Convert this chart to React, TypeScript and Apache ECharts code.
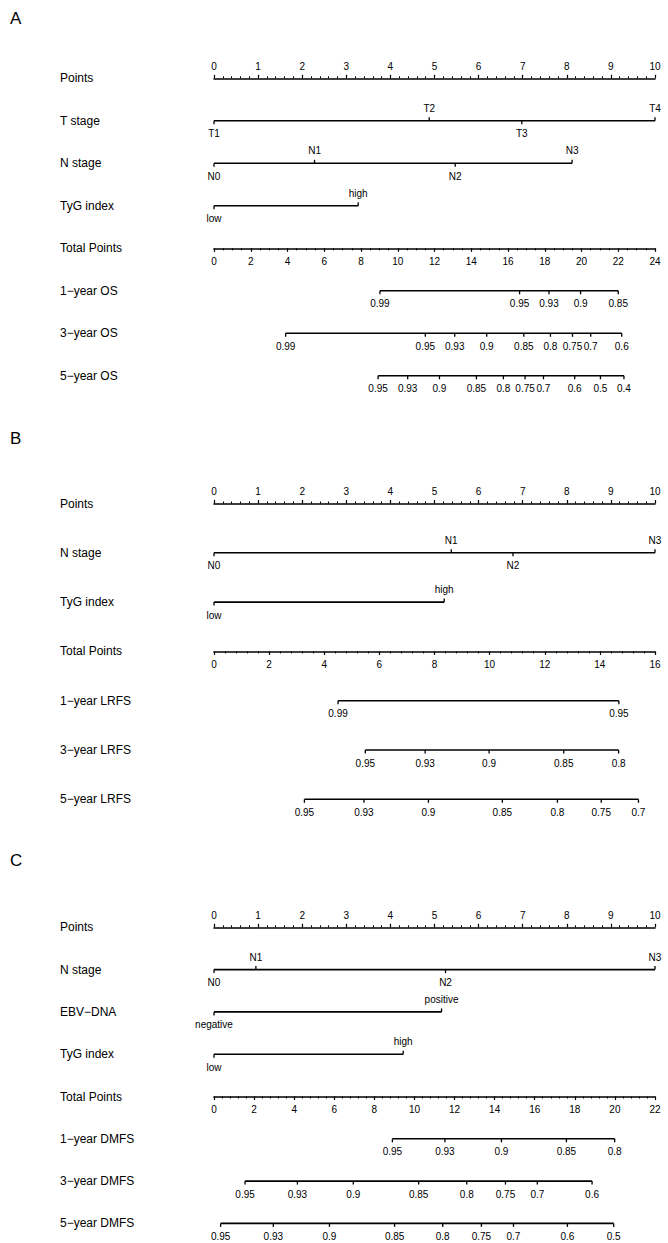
import React, { useEffect, useRef } from "react";
import * as echarts from "echarts";

const FONT = "'Liberation Sans', Arial, Helvetica, sans-serif";
const INK = "#000000";

// ---------- Panel A: overall survival ----------
const aTStageLevels = ["T1", "T2", "T3", "T4"];
const aTStagePoints = [0, 4.88, 6.98, 10];
const aNStageLevels = ["N0", "N1", "N2", "N3"];
const aNStagePoints = [0, 2.28, 5.47, 8.12];
const aTygLevels = ["low", "high"];
const aTygPoints = [0, 3.27];
const aTotalMax = 24;
const aOs1Probs = ["0.99", "0.95", "0.93", "0.9", "0.85"];
const aOs1Totals = [9.03, 16.63, 18.23, 19.95, 22.0];
const aOs3Probs = ["0.99", "0.95", "0.93", "0.9", "0.85", "0.8", "0.75", "0.7", "0.6"];
const aOs3Totals = [3.9, 11.5, 13.1, 14.84, 16.86, 18.31, 19.51, 20.5, 22.19];
const aOs5Probs = ["0.95", "0.93", "0.9", "0.85", "0.8", "0.75", "0.7", "0.6", "0.5", "0.4"];
const aOs5Totals = [8.93, 10.54, 12.27, 14.28, 15.75, 16.93, 17.93, 19.63, 21.03, 22.31];

// ---------- Panel B: locoregional relapse-free survival ----------
const bNStageLevels = ["N0", "N1", "N2", "N3"];
const bNStagePoints = [0, 5.38, 6.78, 10];
const bTygLevels = ["low", "high"];
const bTygPoints = [0, 5.22];
const bTotalMax = 16;
const bLrfs1Probs = ["0.99", "0.95"];
const bLrfs1Totals = [4.5, 14.69];
const bLrfs3Probs = ["0.95", "0.93", "0.9", "0.85", "0.8"];
const bLrfs3Totals = [5.49, 7.66, 9.98, 12.69, 14.68];
const bLrfs5Probs = ["0.95", "0.93", "0.9", "0.85", "0.8", "0.75", "0.7"];
const bLrfs5Totals = [3.28, 5.44, 7.78, 10.46, 12.46, 14.05, 15.4];

// ---------- Panel C: distant metastasis-free survival ----------
const cNStageLevels = ["N0", "N1", "N2", "N3"];
const cNStagePoints = [0, 0.95, 5.25, 10];
const cEbvLevels = ["negative", "positive"];
const cEbvPoints = [0, 5.16];
const cTygLevels = ["low", "high"];
const cTygPoints = [0, 4.29];
const cTotalMax = 22;
const cDmfs1Probs = ["0.95", "0.93", "0.9", "0.85", "0.8"];
const cDmfs1Totals = [8.9, 11.52, 14.34, 17.58, 19.99];
const cDmfs3Probs = ["0.95", "0.93", "0.9", "0.85", "0.8", "0.75", "0.7", "0.6"];
const cDmfs3Totals = [1.55, 4.16, 6.95, 10.21, 12.61, 14.54, 16.13, 18.86];
const cDmfs5Probs = ["0.95", "0.93", "0.9", "0.85", "0.8", "0.75", "0.7", "0.6", "0.5"];
const cDmfs5Totals = [0.33, 2.96, 5.76, 9.01, 11.41, 13.34, 14.94, 17.63, 19.94];

type Scale = { name: string; labels: string[]; values: number[] };
type Panel = {
  letter: string;
  letterTop: number;
  top: number;
  step: number;
  factors: Scale[];
  totalMax: number;
  totalMinorSplit: number;
  outcomes: Scale[];
};

const panels: Panel[] = [
  {
    letter: "A",
    letterTop: 5,
    top: 78.3,
    step: 42.5,
    factors: [
      { name: "T stage", labels: aTStageLevels, values: aTStagePoints },
      { name: "N stage", labels: aNStageLevels, values: aNStagePoints },
      { name: "TyG index", labels: aTygLevels, values: aTygPoints },
    ],
    totalMax: aTotalMax,
    totalMinorSplit: 4,
    outcomes: [
      { name: "1\u2212year OS", labels: aOs1Probs, values: aOs1Totals },
      { name: "3\u2212year OS", labels: aOs3Probs, values: aOs3Totals },
      { name: "5\u2212year OS", labels: aOs5Probs, values: aOs5Totals },
    ],
  },
  {
    letter: "B",
    letterTop: 425,
    top: 503.5,
    step: 49.3,
    factors: [
      { name: "N stage", labels: bNStageLevels, values: bNStagePoints },
      { name: "TyG index", labels: bTygLevels, values: bTygPoints },
    ],
    totalMax: bTotalMax,
    totalMinorSplit: 5,
    outcomes: [
      { name: "1\u2212year LRFS", labels: bLrfs1Probs, values: bLrfs1Totals },
      { name: "3\u2212year LRFS", labels: bLrfs3Probs, values: bLrfs3Totals },
      { name: "5\u2212year LRFS", labels: bLrfs5Probs, values: bLrfs5Totals },
    ],
  },
  {
    letter: "C",
    letterTop: 847,
    top: 927.3,
    step: 42.3,
    factors: [
      { name: "N stage", labels: cNStageLevels, values: cNStagePoints },
      { name: "EBV\u2212DNA", labels: cEbvLevels, values: cEbvPoints },
      { name: "TyG index", labels: cTygLevels, values: cTygPoints },
    ],
    totalMax: cTotalMax,
    totalMinorSplit: 5,
    outcomes: [
      { name: "1\u2212year DMFS", labels: cDmfs1Probs, values: cDmfs1Totals },
      { name: "3\u2212year DMFS", labels: cDmfs3Probs, values: cDmfs3Totals },
      { name: "5\u2212year DMFS", labels: cDmfs5Probs, values: cDmfs5Totals },
    ],
  },
];

const AXIS_LEFT = 214;
const AXIS_WIDTH = 441;
const LABEL_X = 60;
const LINE_W = 1.6;
const TICK_LEN = 3.5;

// One nomogram scale: a horizontal segment spanning its levels, a tick per level
// and the level's label (alternating above/below for factor scales).
function scaleGroup(api: any, sc: Scale, row: number, alternate: boolean) {
  const pts = sc.values.map((v) => api.coord([v, row]));
  const y = pts[0][1];
  const children: any[] = [
    {
      type: "line",
      shape: { x1: pts[0][0], y1: y, x2: pts[pts.length - 1][0], y2: y },
      style: { stroke: INK, lineWidth: LINE_W },
    },
  ];
  pts.forEach((p: number[], i: number) => {
    const up = alternate && i % 2 === 1;
    children.push({
      type: "line",
      shape: { x1: p[0], y1: y, x2: p[0], y2: up ? y - TICK_LEN : y + TICK_LEN },
      style: { stroke: INK, lineWidth: 1.3 },
    });
    children.push({
      type: "text",
      x: p[0],
      y: up ? y - 12.5 : y + 13,
      style: {
        text: sc.labels[i],
        fontSize: 10,
        fontFamily: FONT,
        fill: INK,
        align: "center",
        verticalAlign: "middle",
      },
    });
  });
  return { type: "group", children };
}

function buildOption() {
  const grid: any[] = [];
  const xAxis: any[] = [];
  const yAxis: any[] = [];
  const series: any[] = [];
  const title: any[] = [];

  panels.forEach((pn, pi) => {
    const F = pn.factors.length;
    const totalRow = F + 1;
    grid.push({ left: AXIS_LEFT, width: AXIS_WIDTH, top: pn.top, height: pn.step * totalRow });
    title.push({
      text: pn.letter,
      left: 5,
      top: pn.letterTop,
      textStyle: { fontSize: 17, fontWeight: "normal", color: INK, fontFamily: FONT },
    });
    // Points scale across the top of the panel
    xAxis.push({
      gridIndex: pi,
      type: "value",
      position: "top",
      min: 0,
      max: 10,
      interval: 1,
      axisLine: { show: true, lineStyle: { color: INK, width: LINE_W } },
      axisTick: { show: true, length: 3.5, lineStyle: { color: INK, width: 1.2 } },
      minorTick: { show: true, splitNumber: 5, length: 2, lineStyle: { color: INK, width: 1 } },
      axisLabel: { margin: 7, fontSize: 10, color: INK, fontFamily: FONT },
      splitLine: { show: false },
      minorSplitLine: { show: false },
    });
    // Total points scale at the bottom of the grid
    xAxis.push({
      gridIndex: pi,
      type: "value",
      position: "bottom",
      min: 0,
      max: pn.totalMax,
      interval: 2,
      axisLine: { show: true, onZero: false, lineStyle: { color: INK, width: LINE_W } },
      axisTick: { show: true, length: 3.5, lineStyle: { color: INK, width: 1.2 } },
      minorTick: { show: true, splitNumber: pn.totalMinorSplit, length: 2, lineStyle: { color: INK, width: 1 } },
      axisLabel: { margin: 8, fontSize: 10, color: INK, fontFamily: FONT },
      splitLine: { show: false },
      minorSplitLine: { show: false },
    });
    yAxis.push({
      gridIndex: pi,
      type: "value",
      inverse: true,
      min: 0,
      max: totalRow,
      show: false,
    });

    const rowNames = ["Points", ...pn.factors.map((f) => f.name), "Total Points", ...pn.outcomes.map((o) => o.name)];

    // factor scales, on the points axis
    series.push({
      type: "custom",
      xAxisIndex: pi * 2,
      yAxisIndex: pi,
      clip: false,
      silent: true,
      data: pn.factors.map((f, i) => [f.values[0], i + 1]),
      renderItem: (params: any, api: any) =>
        scaleGroup(api, pn.factors[params.dataIndex], params.dataIndex + 1, true),
    });
    // outcome probability scales, on the total points axis
    series.push({
      type: "custom",
      xAxisIndex: pi * 2 + 1,
      yAxisIndex: pi,
      clip: false,
      silent: true,
      data: pn.outcomes.map((o, i) => [o.values[0], totalRow + 1 + i]),
      renderItem: (params: any, api: any) =>
        scaleGroup(api, pn.outcomes[params.dataIndex], totalRow + 1 + params.dataIndex, false),
    });
    // row names on the left
    series.push({
      type: "custom",
      xAxisIndex: pi * 2,
      yAxisIndex: pi,
      clip: false,
      silent: true,
      data: rowNames.map((_, i) => [0, i]),
      renderItem: (params: any, api: any) => {
        const p = api.coord([0, params.dataIndex]);
        return {
          type: "text",
          x: LABEL_X,
          y: p[1],
          style: {
            text: rowNames[params.dataIndex],
            fontSize: 12,
            fontFamily: FONT,
            fill: INK,
            align: "left",
            verticalAlign: "middle",
          },
        };
      },
    });
  });

  return {
    animation: false,
    backgroundColor: "#ffffff",
    title,
    grid,
    xAxis,
    yAxis,
    series,
  };
}

export default function App() {
  const ref = useRef<HTMLDivElement>(null);
  useEffect(() => {
    document.body.style.margin = "0";
    const chart = echarts.init(ref.current!, null, { renderer: "svg" });
    chart.setOption(buildOption() as any);
    return () => chart.dispose();
  }, []);
  return <div ref={ref} style={{ width: 668, height: 1243, background: "#fff" }} />;
}
